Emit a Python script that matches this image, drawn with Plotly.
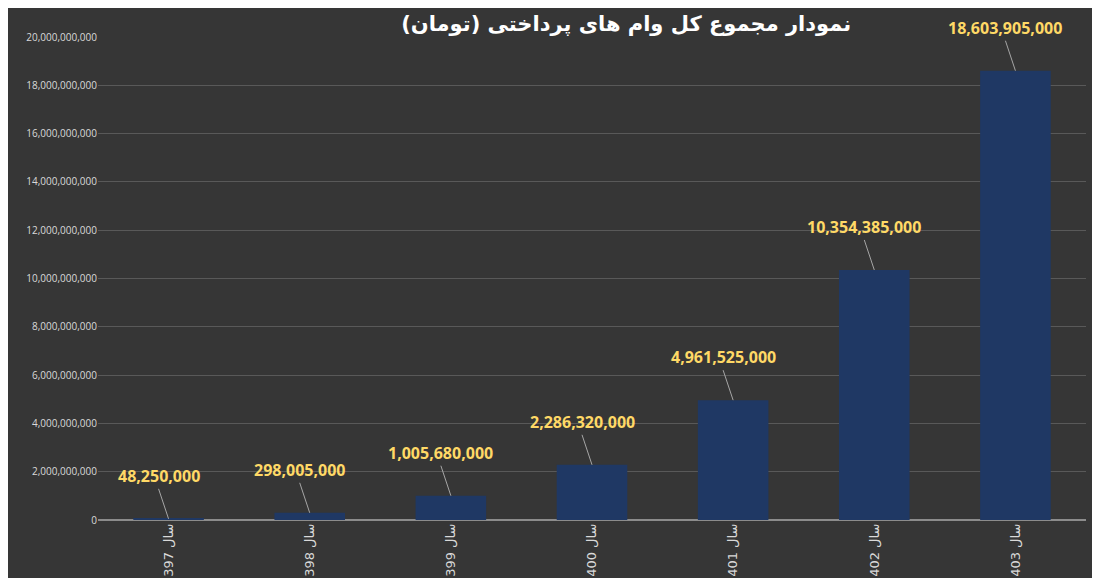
import plotly.graph_objects as go

years = ['1397', '1398', '1399', '1400', '1401', '1402', '1403']
categories = ['سال ' + y for y in years]
amounts = [48250000, 298005000, 1005680000, 2286320000, 4961525000, 10354385000, 18603905000]
tick_vals = list(range(0, 20000000001, 2000000000))
tick_text = [f'{v:,}' for v in tick_vals]

fig = go.Figure()
fig.add_trace(go.Bar(
    x=categories, y=amounts, width=0.5,
    marker=dict(color='#1f3864', line=dict(width=0)),
))
for c, v in zip(categories, amounts):
    fig.add_annotation(
        x=c, y=v, text=f'<b>{v:,}</b>', showarrow=True, arrowhead=0,
        arrowwidth=1, arrowcolor='#a6a6a6', ax=-10, ay=-30,
        font=dict(family='Open Sans', size=16, color='#ffd966'),
        yanchor='bottom',
    )
fig.update_layout(
    width=1100, height=578,
    paper_bgcolor='#363636', plot_bgcolor='rgba(0,0,0,0)',
    margin=dict(l=90, r=22, t=29, b=66, autoexpand=False),
    title=dict(text='<b>نمودار مجموع کل وام های پرداختی (تومان)</b>', x=0.562, y=0.985,
               xanchor='center', yanchor='top',
               font=dict(family='DejaVu Sans', size=21, color='white')),
    showlegend=False,
    bargap=0.5,
)
fig.update_yaxes(range=[0, 20000000000], tickvals=tick_vals, ticktext=tick_text,
                 gridcolor='#595959', zeroline=True, zerolinecolor='#8c8c8c',
                 tickfont=dict(family='Open Sans', size=10, color='#d9d9d9'))
fig.update_xaxes(tickangle=-90, showline=False,
                 tickfont=dict(family='DejaVu Sans', size=13, color='#d9d9d9'))
fig.write_html('out.html')
